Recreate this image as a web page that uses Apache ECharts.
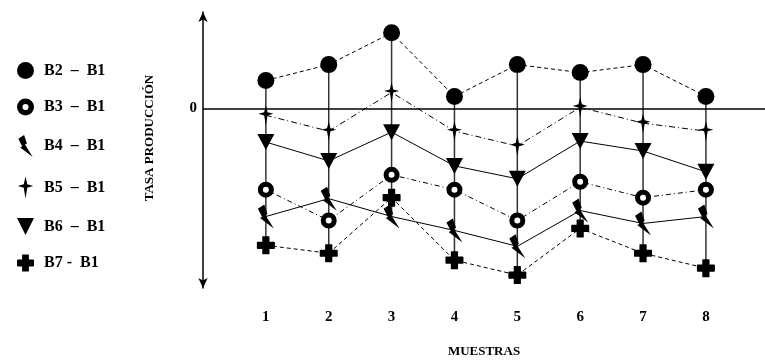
<!DOCTYPE html>
<html><head><meta charset="utf-8">
<script src="https://cdn.jsdelivr.net/npm/echarts@6/dist/echarts.min.js"></script>
<style>html,body{margin:0;padding:0;background:#fff}#c{width:765px;height:363px}</style>
</head><body><div id="c"></div>
<script>
var muestras = [1, 2, 3, 4, 5, 6, 7, 8];
var seriesNames = ['B2 – B1', 'B3 – B1', 'B4 – B1', 'B5 – B1', 'B6 – B1', 'B7 -  B1'];
var b2 = [2.8, 4.4, 7.6, 1.2, 4.4, 3.6, 4.4, 1.2];
var b3 = [-8.2, -11.3, -6.7, -8.2, -11.3, -7.4, -9.0, -8.2];
var b4 = [-10.9, -9.1, -10.9, -12.3, -13.9, -10.3, -11.6, -10.9];
var b5 = [-0.7, -2.3, 1.6, -2.3, -3.8, 0.1, -1.5, -2.3];
var b6 = [-3.4, -5.3, -2.4, -5.8, -7.1, -3.3, -4.3, -6.4];
var b7 = [-13.8, -14.6, -9.0, -15.3, -16.8, -12.1, -14.6, -16.1];
var zeroLabel = '0';

var SERIF = '"Liberation Serif", "Times New Roman", serif';
var bolt = 'path://M0,4 L6,0 L9,9 L7,10 L15,23 L2,13 L4,12 Z';
var star = 'path://M7,0 L8.6,7 L14,8.6 L8.6,10.2 L7,20 L5.4,10.2 L0,8.6 L5.4,7 Z';
var cross = 'path://M3.2,0 H6.8 Q7,0 7,0.5 V3 H9.5 Q10,3 10,3.5 V6.5 Q10,7 9.5,7 H7 V9.5 Q7,10 6.8,10 H3.2 Q3,10 3,9.5 V7 H0.5 Q0,7 0,6.5 V3.5 Q0,3 0.5,3 H3 V0.5 Q3,0 3.2,0 Z';
var tri = 'path://M0,0 L10,0 L5,10 Z';

function pairs(arr){ return muestras.map(function(m,i){ return [m, arr[i]]; }); }
var all = [b2,b3,b4,b5,b6,b7];
var stems = muestras.map(function(m,i){
  var vals = all.map(function(a){return a[i];});
  return [m, Math.max.apply(null, vals), Math.min.apply(null, vals)];
});

var defs = [
  {name: seriesNames[0], data: b2, symbol: 'circle', size: 17, line: [4,3], style: {color:'#000'}},
  {name: seriesNames[1], data: b3, symbol: 'circle', size: 11, line: [5,3,1,3], style: {color:'#fff', borderColor:'#000', borderWidth:5}},
  {name: seriesNames[2], data: b4, symbol: bolt, size: [16,24], line: 'solid', style: {color:'#000'}},
  {name: seriesNames[3], data: b5, symbol: star, size: [15,20], line: [6,3,1,3], style: {color:'#000'}},
  {name: seriesNames[4], data: b6, symbol: tri, size: [17,16], line: 'solid', style: {color:'#000'}},
  {name: seriesNames[5], data: b7, symbol: cross, size: [18,18], line: [4,3], style: {color:'#000'}}
];

var series = [{
  type: 'custom', z: 1, silent: true,
  data: stems,
  renderItem: function(params, api){
    var p1 = api.coord([api.value(0), api.value(1)]);
    var p2 = api.coord([api.value(0), api.value(2)]);
    return {type:'line', shape:{x1:p1[0], y1:p1[1], x2:p2[0], y2:p2[1]}, style:{stroke:'#333', lineWidth:1.5}};
  }
}];
defs.forEach(function(d, k){
  var s = {
    type: 'line', name: d.name, data: pairs(d.data), z: 3,
    symbol: d.symbol, symbolSize: d.size, showAllSymbol: true,
    lineStyle: {color:'#000', width:1, type: d.line},
    itemStyle: d.style
  };
  if (k === 0) {
    s.markLine = {
      silent: true, symbol: 'none', z: 2,
      lineStyle: {color:'#000', width:1.5, type:'solid'},
      label: {show:true, position:'start', formatter: zeroLabel, distance: 6,
              fontFamily: SERIF, fontWeight:'bold', fontSize:15, color:'#000'},
      data: [{yAxis: 0}]
    };
  }
  series.push(s);
});

var chart = echarts.init(document.getElementById('c'), null, {renderer:'canvas'});
chart.setOption({
  animation: false,
  backgroundColor: '#fff',
  grid: {left: 203, right: 0, top: 12, bottom: 73},
  legend: {
    orient: 'vertical', left: 12, top: 57,
    itemWidth: 17, itemHeight: 22, itemGap: 19.5,
    textStyle: {fontFamily: SERIF, fontWeight: 'bold', fontSize: 16, color: '#000', padding: [0,0,0,5]},
    formatter: function(n){ return n.replace(' – ', '  –  '); },
    selectedMode: false,
    data: defs.map(function(d, k){
      var item = {name: d.name, icon: d.symbol};
      if (k === 1) { item.icon = 'path://M5,0 A5,5 0 1,1 4.99,0 Z M5,3.2 A1.8,1.8 0 1,0 5.01,3.2 Z'; item.itemStyle = {color:'#000', borderWidth:0}; }
      return item;
    })
  },
  xAxis: {
    type: 'value', min: 0, max: 8.94, interval: 1,
    axisLine: {show: false}, axisTick: {show: false}, splitLine: {show: false},
    axisLabel: {margin: 22, showMinLabel: false, showMaxLabel: false,
      fontFamily: SERIF, fontWeight: 'bold', fontSize: 15, color: '#000'},
    name: 'MUESTRAS', nameLocation: 'middle', nameGap: 57,
    nameTextStyle: {fontFamily: SERIF, fontWeight: 'bold', fontSize: 13, color: '#000'}
  },
  yAxis: {
    type: 'value', min: -18.1, max: 9.7,
    axisLine: {show: true, onZero: false, symbol: ['arrow','arrow'], symbolSize: [7,10], lineStyle: {color:'#000', width:1.5}},
    axisTick: {show: false}, axisLabel: {show: false}, splitLine: {show: false}
  },
  graphic: [{
    type: 'text', x: 150, y: 138, rotation: Math.PI/2, origin: [0,0],
    style: {text: 'TASA PRODUCCIÓN', font: 'bold 13px ' + SERIF, fill:'#000', align:'center', verticalAlign:'middle'}
  }],
  series: series
});
</script></body></html>
